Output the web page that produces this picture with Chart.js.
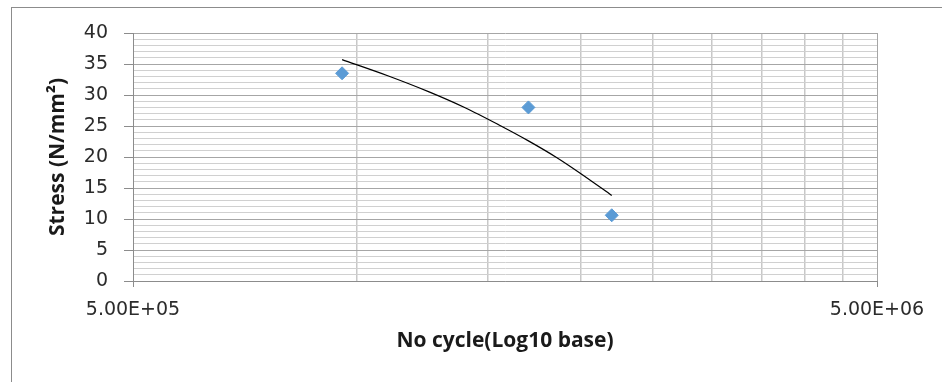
<!DOCTYPE html>
<html>
<head>
<meta charset="utf-8">
<script src="https://cdn.jsdelivr.net/npm/chart.js@4.4.1/dist/chart.umd.min.js"></script>
<style>
  html, body { margin: 0; padding: 0; background: #fff; overflow: hidden; }
  #wrap { position: relative; width: 942px; height: 382px; }
  #frame { position: absolute; left: 11px; top: 7px; width: 960px; height: 400px;
           border-top: 1px solid #8c8c8c; border-left: 1px solid #8c8c8c; }
  canvas { position: absolute; left: 0; top: 0; }
</style>
</head>
<body>
<div id="wrap">
  <div id="frame"></div>
  <canvas id="chart" width="942" height="382"></canvas>
</div>
<script>
// measured points
const cycles = [955000, 1700000, 2200000];
const stress = [33.5, 28.0, 10.6];

// trendline
const trendCycles = [955000, 1100000, 1250000, 1400000, 1550000, 1700000, 1850000, 2000000, 2200000];
const trendStress = [35.7, 33.1, 30.5, 27.9, 25.2, 22.6, 20.0, 17.3, 13.8];

// axes
const xLabelTicks = [500000, 5000000];
const xGridTicks = [500000, 1000000, 1500000, 2000000, 2500000, 3000000, 3500000, 4000000, 4500000, 5000000];
const yLabelTicks = [0, 5, 10, 15, 20, 25, 30, 35, 40];
const yGridTicks = Array.from({ length: 41 }, (_, i) => i);

const majorLine = "#a6a6a6";
const minorLine = "#d0d0d0";

function sci(v) {
    const [m, e] = v.toExponential(2).split("e");
    const n = Number(e);
    return m + "E" + (n < 0 ? "-" : "+") + String(Math.abs(n)).padStart(2, "0");
}

const isXMajor = ctx => ctx.tick && xLabelTicks.includes(ctx.tick.value);
const isYMajor = ctx => ctx.tick && yLabelTicks.includes(ctx.tick.value);

new Chart(document.getElementById("chart"), {
    type: "scatter",
    data: {
        datasets: [
            {
                label: "Stress",
                data: cycles.map((c, i) => ({ x: c, y: stress[i] })),
                pointStyle: "rectRot",
                pointRadius: 6.5,
                backgroundColor: "#5b9bd5",
                borderColor: "#5b9bd5",
                borderWidth: 1
            },
            {
                label: "Trend",
                data: trendCycles.map((c, i) => ({ x: c, y: trendStress[i] })),
                showLine: true,
                pointRadius: 0,
                borderColor: "#000000",
                borderWidth: 1.2,
                tension: 0.3,
                fill: false
            }
        ]
    },
    options: {
        responsive: false,
        animation: false,
        events: [],
        layout: { padding: { left: 45, top: 33, right: 65, bottom: 28 } },
        plugins: {
            legend: { display: false },
            tooltip: { enabled: false }
        },
        scales: {
            x: {
                type: "logarithmic",
                min: 500000,
                max: 5000000,
                afterBuildTicks: scale => { scale.ticks = xGridTicks.map(v => ({ value: v })); },
                afterFit: scale => { scale.height = 73; },
                ticks: {
                    autoSkip: false,
                    maxRotation: 0,
                    padding: 12,
                    color: "#2b2b2b",
                    font: { family: "DejaVu Sans", size: 19 },
                    callback: v => xLabelTicks.includes(v) ? sci(v) : ""
                },
                grid: {
                    color: ctx => isXMajor(ctx) ? majorLine : "#c8c8c8",
                    lineWidth: ctx => isXMajor(ctx) ? 1 : 1.5,
                    tickLength: 6,
                    tickColor: ctx => isXMajor(ctx) ? "#8c8c8c" : "rgba(0,0,0,0)"
                },
                border: { display: true, color: "#8c8c8c" },
                title: {
                    display: true,
                    text: "No cycle(Log10 base)",
                    color: "#1a1a1a",
                    padding: 0,
                    font: { family: "Open Sans", size: 21, weight: "bold" }
                }
            },
            y: {
                min: 0,
                max: 40,
                afterBuildTicks: scale => { scale.ticks = yGridTicks.map(v => ({ value: v })); },
                afterFit: scale => { scale.width = 88; },
                ticks: {
                    autoSkip: false,
                    padding: 16,
                    color: "#2b2b2b",
                    font: { family: "DejaVu Sans", size: 19 },
                    callback: v => yLabelTicks.includes(v) ? String(v) : ""
                },
                grid: {
                    color: ctx => isYMajor(ctx) ? majorLine : minorLine,
                    lineWidth: 1,
                    tickLength: 9,
                    tickColor: ctx => isYMajor(ctx) ? "#8c8c8c" : "rgba(0,0,0,0)"
                },
                border: { display: true, color: "#8c8c8c" },
                title: {
                    display: true,
                    text: "Stress (N/mm²)",
                    color: "#1a1a1a",
                    padding: 0,
                    font: { family: "Open Sans", size: 21, weight: "bold" }
                }
            }
        }
    }
});
</script>
</body>
</html>
